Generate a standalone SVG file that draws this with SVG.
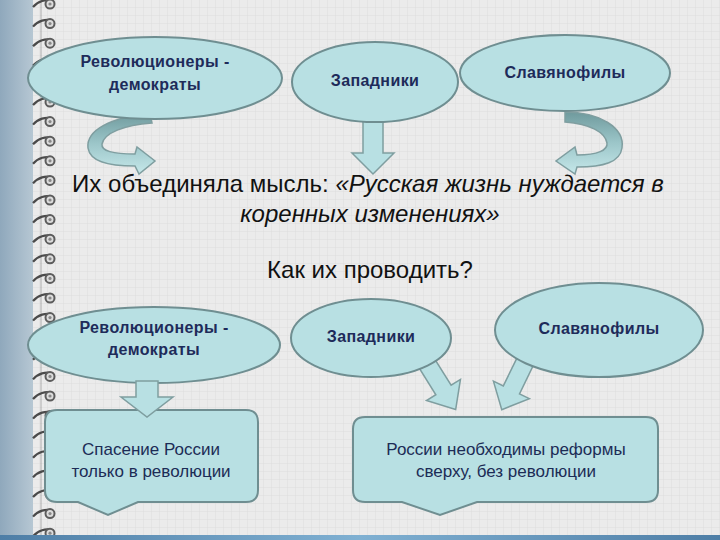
<svg xmlns="http://www.w3.org/2000/svg" xmlns:xlink="http://www.w3.org/1999/xlink" width="720" height="540" viewBox="0 0 720 540">
<defs>
<style>
.node{fill:#b8e0e3;stroke:#6f8e91;stroke-width:2}
.lbl{font-family:"Liberation Sans",Arial,sans-serif;font-weight:bold;font-size:16px;fill:#1e2b5a;text-anchor:middle;letter-spacing:0.4px}
.btxt{font-family:"Liberation Sans",Arial,sans-serif;font-size:17px;fill:#1c2c56;text-anchor:middle}
.main{font-family:"Liberation Sans",Arial,sans-serif;font-size:24px;fill:#111;text-anchor:middle}
.arr{fill:#b8e0e3;stroke:#7f9ea0;stroke-width:1.5}
.curl{fill:url(#curlg);stroke:#7f9ea0;stroke-width:1.5}
.ring{fill:none;stroke:#4a4a4a;stroke-width:2.2}
</style>
<pattern id="grid" width="8" height="8" patternUnits="userSpaceOnUse">
<rect width="8" height="8" fill="#ebebeb"/>
<path d="M8,0V8M0,8H8" stroke="#d9d9d9" stroke-width="0.8"/>
</pattern>
<linearGradient id="strip" x1="0" y1="0" x2="1" y2="0">
<stop offset="0" stop-color="#8fa8bc"/>
<stop offset="1" stop-color="#b6c7d3"/>
</linearGradient>
<linearGradient id="bar" x1="0" y1="0" x2="1" y2="0">
<stop offset="0" stop-color="#4e7ea6"/>
<stop offset="0.5" stop-color="#7fb0d2"/>
<stop offset="1" stop-color="#4e7ea6"/>
</linearGradient>
<linearGradient id="curlg" x1="0" y1="0" x2="0" y2="1">
<stop offset="0" stop-color="#6f9a9d"/>
<stop offset="0.5" stop-color="#9cc6c9"/>
<stop offset="1" stop-color="#c6e8ea"/>
</linearGradient>
<g id="ring">
<path class="ring" d="M33,4 C38,-2 46,-4 52,-2"/>
<circle cx="50" cy="1" r="4.5" fill="#dcdcdc" stroke="#5c5c5c" stroke-width="2"/>
<circle cx="50" cy="1" r="1.6" fill="#888"/>
</g>
</defs>

<!-- background -->
<rect width="720" height="540" fill="url(#grid)"/>
<rect x="0" y="0" width="33" height="540" fill="url(#strip)"/>
<line x1="41" y1="0" x2="41" y2="540" stroke="#555" stroke-width="0.8" opacity="0.5"/>
<g id="rings">
<use xlink:href="#ring" y="3"/><use xlink:href="#ring" y="22.6"/><use xlink:href="#ring" y="42.2"/><use xlink:href="#ring" y="61.8"/>
<use xlink:href="#ring" y="81.4"/><use xlink:href="#ring" y="101"/><use xlink:href="#ring" y="120.6"/><use xlink:href="#ring" y="140.2"/>
<use xlink:href="#ring" y="159.8"/><use xlink:href="#ring" y="179.4"/><use xlink:href="#ring" y="199"/><use xlink:href="#ring" y="218.6"/>
<use xlink:href="#ring" y="238.2"/><use xlink:href="#ring" y="257.8"/><use xlink:href="#ring" y="277.4"/><use xlink:href="#ring" y="297"/>
<use xlink:href="#ring" y="316.6"/><use xlink:href="#ring" y="336.2"/><use xlink:href="#ring" y="355.8"/><use xlink:href="#ring" y="375.4"/>
<use xlink:href="#ring" y="395"/><use xlink:href="#ring" y="414.6"/><use xlink:href="#ring" y="434.2"/><use xlink:href="#ring" y="453.8"/>
<use xlink:href="#ring" y="473.4"/><use xlink:href="#ring" y="493"/><use xlink:href="#ring" y="512.6"/><use xlink:href="#ring" y="532.2"/>
</g>
<rect x="0" y="535" width="720" height="5" fill="url(#bar)"/>

<!-- connectors -->
<g id="connectors">
<path class="curl" d="M150,113 C110,118 86,130 88,148 C90,161 106,166 135,166 L139,174 L155,161 L137,147 L135,154 C113,154 101,151 102,144 C104,133 124,125 152,123 Z"/>
<path class="arr" d="M363,115 H383 V153 H394 L373,174 L352,153 H363 Z"/>
<path class="curl" d="M565,112 C600,112 625,128 622,148 C620,162 604,167 577,167 L575,174 L556,161 L575,147 L577,155 C598,155 608,150 607,143 C605,132 590,124 565,122 Z"/>
<path class="arr" transform="translate(426,362) rotate(-32)" d="M-9,0 H9 V33 H20 L0,56 L-20,33 H-9 Z"/>
<path class="arr" transform="translate(525,362) rotate(26)" d="M-9,0 H9 V31 H20 L0,53 L-20,31 H-9 Z"/>
</g>

<!-- top nodes -->
<g id="rev-top">
<ellipse class="node" cx="155" cy="78" rx="127" ry="41"/>
<text class="lbl" x="155" y="67">Революционеры -</text>
<text class="lbl" x="155" y="90">демократы</text>
</g>
<g id="zap-top">
<ellipse class="node" cx="375" cy="82" rx="83" ry="40"/>
<text class="lbl" x="375" y="86">Западники</text>
</g>
<g id="slav-top">
<ellipse class="node" cx="565" cy="73" rx="105" ry="38"/>
<text class="lbl" x="565" y="78">Славянофилы</text>
</g>

<!-- central text -->
<g id="idea">
<text class="main" x="368" y="192">Их объединяла мысль: <tspan font-style="italic">«Русская жизнь нуждается в</tspan></text>
<text class="main" x="370" y="222" font-style="italic">коренных изменениях»</text>
<text class="main" x="370" y="278">Как их проводить?</text>
</g>

<!-- bottom nodes -->
<g id="rev-bot">
<ellipse class="node" cx="154" cy="345" rx="126" ry="38"/>
<text class="lbl" x="154" y="333">Революционеры -</text>
<text class="lbl" x="154" y="355">демократы</text>
</g>
<g id="zap-bot">
<ellipse class="node" cx="371" cy="338" rx="80" ry="39"/>
<text class="lbl" x="371" y="342">Западники</text>
</g>
<g id="slav-bot">
<ellipse class="node" cx="599" cy="330" rx="104" ry="47"/>
<text class="lbl" x="599" y="334">Славянофилы</text>
</g>

<g id="box-rev">
<path class="node" d="M57,410 H246 Q258,410 258,422 V490 Q258,502 246,502 H138 L108,515 L78,502 H57 Q45,502 45,490 V422 Q45,410 57,410 Z"/>
<text class="btxt" x="151" y="455">Спасение России</text>
<text class="btxt" x="151" y="477">только в революции</text>
</g>
<g id="box-reform">
<path class="node" d="M365,417 H646 Q658,417 658,429 V490 Q658,502 646,502 H477 L440,515 L402,502 H365 Q353,502 353,490 V429 Q353,417 365,417 Z"/>
<text class="btxt" x="506" y="455">России необходимы реформы</text>
<text class="btxt" x="506" y="477">сверху, без революции</text>
</g>

<g id="conn-rev">
<path class="arr" d="M136,381 H158 V397 H173 L147,417 L121,397 H136 Z"/>
</g>
</svg>
